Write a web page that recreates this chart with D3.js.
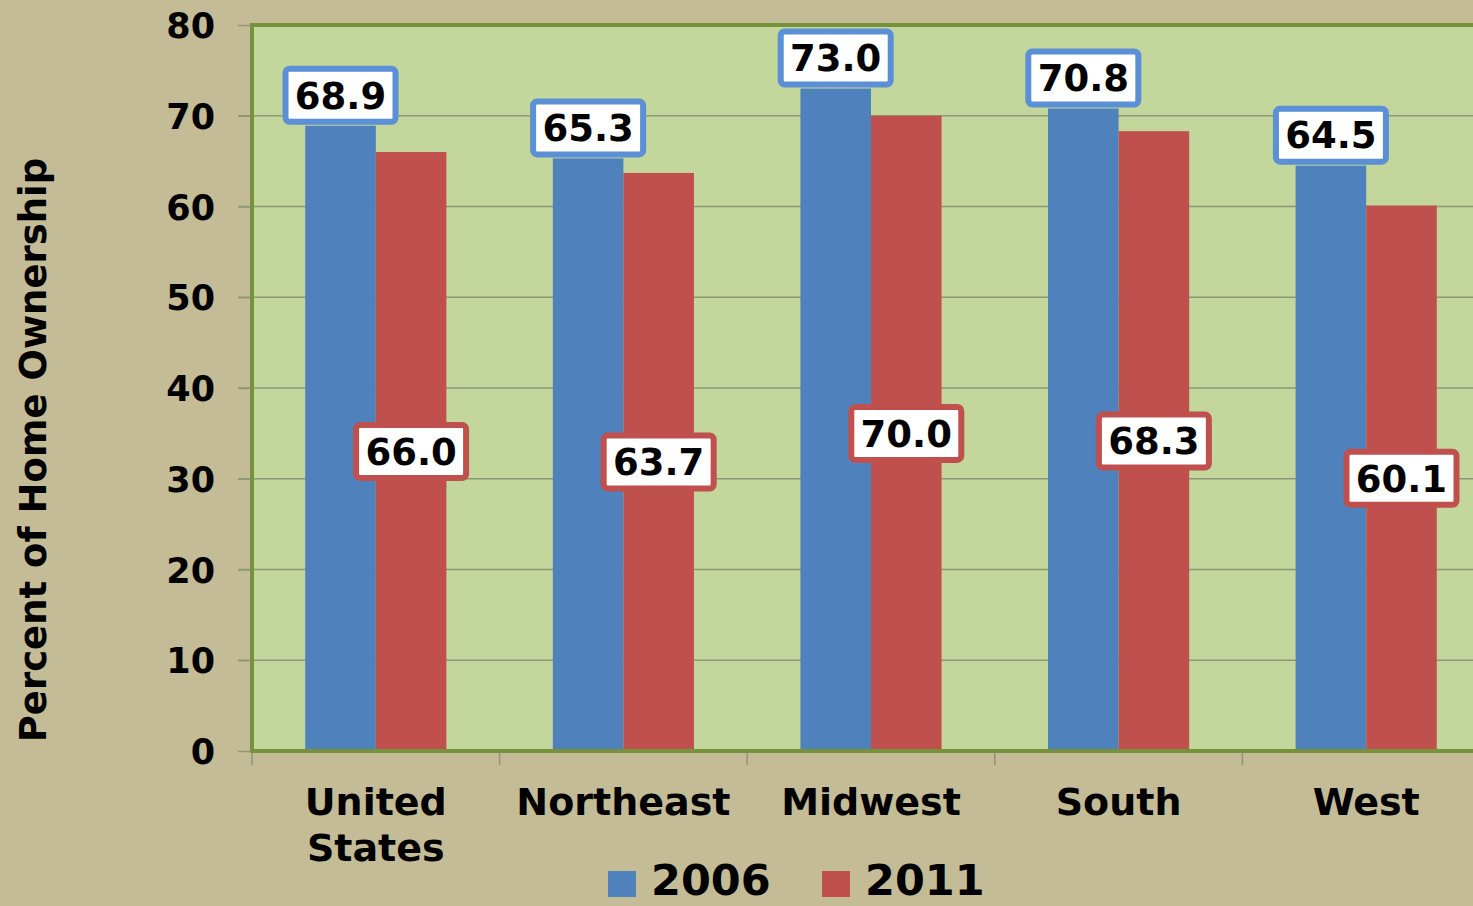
<!DOCTYPE html>
<html>
<head>
<meta charset="utf-8">
<script src="https://cdn.jsdelivr.net/npm/d3@7"></script>
<style>
  html, body { margin: 0; padding: 0; background: #c4bc96; overflow: hidden; }
  text { font-family: "DejaVu Sans", Verdana, sans-serif; font-weight: bold; fill: #000; }
</style>
</head>
<body>
<div id="chart"></div>
<script>
const categories = [["United", "States"], ["Northeast"], ["Midwest"], ["South"], ["West"]];
const series = ["2006", "2011"];
const values2006 = [68.9, 65.3, 73.0, 70.8, 64.5];
const values2011 = [66.0, 63.7, 70.0, 68.3, 60.1];
const yTicks = [0, 10, 20, 30, 40, 50, 60, 70, 80];

const width = 1473;
const height = 906;
const margin = { top: 25, left: 252, bottom: 155 };
const plotRight = 1490;

const colors = { "2006": "#4f81bd", "2011": "#c0504d" };
const labelBorder = { "2006": "#5b8fd6", "2011": "#c0504d" };

const svg = d3.select("#chart")
  .append("svg")
  .attr("width", width)
  .attr("height", height);

const x = d3.scaleBand()
  .domain(categories.map((d, i) => i))
  .range([margin.left, plotRight])
  .paddingInner(0.43)
  .paddingOuter(0.215);

const xOuter = d3.scaleBand()
  .domain(categories.map((d, i) => i))
  .range([margin.left, plotRight]);

const xSub = d3.scaleBand()
  .domain(series)
  .range([0, x.bandwidth()]);

const y = d3.scaleLinear()
  .domain([0, 80])
  .range([height - margin.bottom, margin.top]);

// plot background
svg.append("rect")
  .attr("x", margin.left)
  .attr("y", y(80))
  .attr("width", plotRight - margin.left)
  .attr("height", y(0) - y(80))
  .attr("fill", "#c3d69b");

// gridlines
svg.append("g")
  .selectAll("line")
  .data(yTicks.filter(t => t > 0 && t < 80))
  .enter()
  .append("line")
  .attr("x1", margin.left - 14)
  .attr("x2", plotRight)
  .attr("y1", d => y(d))
  .attr("y2", d => y(d))
  .attr("stroke", "#8c9878")
  .attr("stroke-width", 1.5);

// y axis
const yAxis = svg.append("g")
  .attr("transform", `translate(${margin.left},0)`)
  .call(d3.axisLeft(y).tickValues(yTicks).tickSize(14).tickPadding(23));
yAxis.select(".domain").remove();
yAxis.selectAll(".tick line").attr("stroke", "#8c9878").attr("stroke-width", 1.5);
yAxis.selectAll(".tick text")
  .style("font-size", "35px")
  .attr("dy", "0.36em");

// x axis ticks
svg.append("g")
  .selectAll("line")
  .data(categories.map((d, i) => i))
  .enter()
  .append("line")
  .attr("x1", d => xOuter(d))
  .attr("x2", d => xOuter(d))
  .attr("y1", y(0))
  .attr("y2", y(0) + 14)
  .attr("stroke", "#8c9878")
  .attr("stroke-width", 1.5);

// bars
const groups = svg.append("g")
  .selectAll("g")
  .data(categories.map((d, i) => i))
  .enter()
  .append("g")
  .attr("transform", d => `translate(${x(d)},0)`);

groups.selectAll("rect")
  .data(i => [{ s: "2006", v: values2006[i] }, { s: "2011", v: values2011[i] }])
  .enter()
  .append("rect")
  .attr("x", d => xSub(d.s))
  .attr("y", d => y(d.v))
  .attr("width", xSub.bandwidth())
  .attr("height", d => y(0) - y(d.v))
  .attr("fill", d => colors[d.s]);

// plot border
svg.append("rect")
  .attr("x", margin.left)
  .attr("y", y(80))
  .attr("width", plotRight - margin.left)
  .attr("height", y(0) - y(80))
  .attr("fill", "none")
  .attr("stroke", "#76923c")
  .attr("stroke-width", 4);

// data labels
const boxW = 110, boxH = 53;
groups.each(function(i) {
  const g = d3.select(this);
  const items = [{ s: "2006", v: values2006[i] }, { s: "2011", v: values2011[i] }];
  items.forEach(d => {
    const cx = xSub(d.s) + xSub.bandwidth() / 2;
    const cy = d.s === "2006" ? y(d.v) - boxH / 2 - 4 : (y(d.v) + y(0)) / 2;
    g.append("rect")
      .attr("x", cx - boxW / 2)
      .attr("y", cy - boxH / 2)
      .attr("width", boxW)
      .attr("height", boxH)
      .attr("rx", 4)
      .attr("fill", "#fff")
      .attr("stroke", labelBorder[d.s])
      .attr("stroke-width", 6);
    g.append("text")
      .attr("x", cx)
      .attr("y", cy)
      .attr("text-anchor", "middle")
      .attr("dy", "0.36em")
      .style("font-size", "37px")
      .text(d.v.toFixed(1));
  });
});

// category labels
svg.append("g")
  .selectAll("text")
  .data(categories)
  .enter()
  .append("text")
  .attr("x", (d, i) => xOuter(i) + xOuter.bandwidth() / 2)
  .attr("y", y(0) + 64)
  .attr("text-anchor", "middle")
  .style("font-size", "38px")
  .each(function(d) {
    const t = d3.select(this);
    d.forEach((line, k) => {
      t.append("tspan")
        .attr("x", t.attr("x"))
        .attr("dy", k === 0 ? 0 : 46)
        .text(line);
    });
  });

// axis title
svg.append("text")
  .attr("transform", `translate(46,${(y(0) + y(80)) / 2 + 62}) rotate(-90)`)
  .attr("text-anchor", "middle")
  .style("font-size", "37px")
  .text("Percent of Home Ownership");

// legend
const legendX = [608, 822];
series.forEach((s, k) => {
  svg.append("rect")
    .attr("x", legendX[k])
    .attr("y", 871)
    .attr("width", 28)
    .attr("height", 26)
    .attr("fill", colors[s]);
  svg.append("text")
    .attr("x", legendX[k] + 43)
    .attr("y", 895)
    .style("font-size", "43px")
    .text(s);
});
</script>
</body>
</html>
